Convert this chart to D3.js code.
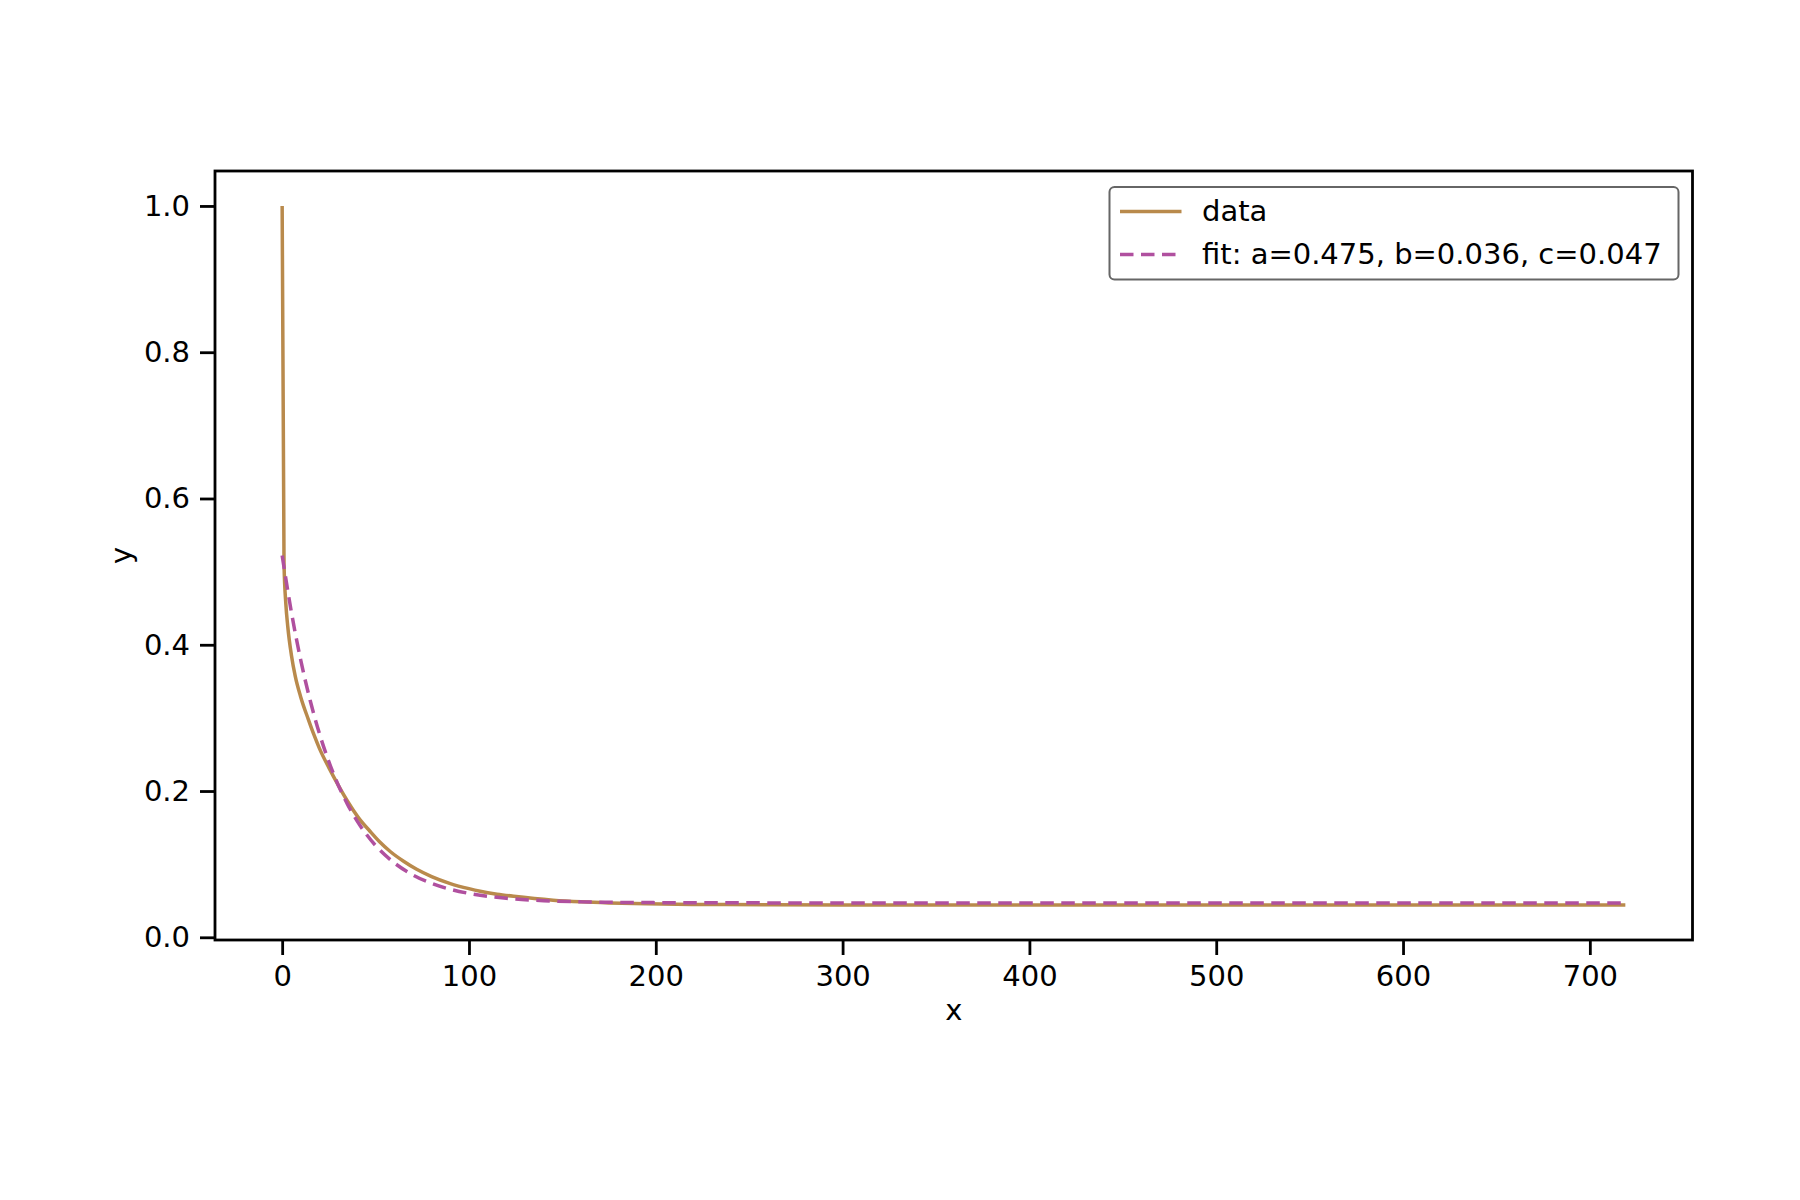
<!DOCTYPE html>
<html>
<head>
<meta charset="utf-8">
<script src="https://cdn.jsdelivr.net/npm/d3@7"></script>
<style>
  html, body { margin: 0; padding: 0; background: #ffffff; }
  svg { display: block; font-family: "DejaVu Sans", sans-serif; }
</style>
</head>
<body>
<svg id="chart" width="1800" height="1200"></svg>
<script>
// ---------------- data ----------------
const dataX = [0, 1, 2, 3, 5, 7, 10, 14, 17, 20, 25, 30, 35, 41, 47, 52, 58, 65, 72, 80, 90, 100, 106, 115, 124, 135, 145, 160, 175, 195, 220, 260, 300, 400, 500, 600, 719];
const dataY = [1.0, 0.51, 0.455, 0.425, 0.385, 0.357, 0.328, 0.298, 0.277, 0.258, 0.232, 0.208, 0.186, 0.163, 0.145, 0.131, 0.117, 0.104, 0.093, 0.083, 0.0735, 0.0665, 0.063, 0.059, 0.056, 0.053, 0.0508, 0.0485, 0.047, 0.0458, 0.045, 0.0445, 0.0442, 0.0441, 0.0441, 0.0441, 0.0441];

const fitX = [0, 5, 10, 15, 20, 25, 30, 35, 40, 45, 50, 60, 70, 80, 90, 100, 120, 140, 160, 180, 200, 250, 300, 400, 500, 600, 719];
const fitY = [0.522, 0.4438, 0.3784, 0.3238, 0.2782, 0.2401, 0.2083, 0.1818, 0.1595, 0.1410, 0.1255, 0.1018, 0.0852, 0.0737, 0.0656, 0.0600, 0.0533, 0.0501, 0.0485, 0.0477, 0.0474, 0.0471, 0.0470, 0.0470, 0.0470, 0.0470, 0.0470];

const seriesLabels = ["data", "fit: a=0.475, b=0.036, c=0.047"];
const xTicks = [0, 100, 200, 300, 400, 500, 600, 700];
const yTicks = [0.0, 0.2, 0.4, 0.6, 0.8, 1.0];
const xLabel = "x";
const yLabel = "y";

// ---------------- layout / style ----------------
const plot = { left: 215, right: 1692.5, top: 171, bottom: 940 };
const FS = 29;
const colData = "#b98a4c";
const colFit = "#b0509f";
const LW = 3.5;
const dash = "13.5,7.5";

const svg = d3.select("#chart");

// scales with matplotlib-like 5% margins
const xExt = d3.extent(dataX.concat(fitX));
const yExt = d3.extent(dataY.concat(fitY));
const xPad = (xExt[1] - xExt[0]) * 0.05;
const yPad = (yExt[1] - yExt[0]) * 0.05;
const x = d3.scaleLinear().domain([xExt[0] - xPad, xExt[1] + xPad]).range([plot.left, plot.right]);
const y = d3.scaleLinear().domain([yExt[0] - yPad, yExt[1] + yPad]).range([plot.bottom, plot.top]);

// lines
const line = d3.line().x(d => x(d[0])).y(d => y(d[1])).curve(d3.curveMonotoneX);
const dataPts = dataX.map((v, i) => [v, dataY[i]]);
const fitPts = fitX.map((v, i) => [v, fitY[i]]);

svg.append("path").datum(dataPts)
  .attr("d", line).attr("fill", "none")
  .attr("stroke", colData).attr("stroke-width", LW)
  .attr("stroke-linejoin", "round").attr("stroke-linecap", "butt");

svg.append("path").datum(fitPts)
  .attr("d", line).attr("fill", "none")
  .attr("stroke", colFit).attr("stroke-width", LW)
  .attr("stroke-dasharray", dash);

// axes
const xAxis = d3.axisBottom(x).tickValues(xTicks).tickSize(15).tickPadding(10.5).tickFormat(d3.format("d"));
const yAxis = d3.axisLeft(y).tickValues(yTicks).tickSize(15).tickPadding(10).tickFormat(d3.format(".1f"));

const gx = svg.append("g").attr("transform", `translate(0,${plot.bottom})`).call(xAxis);
const gy = svg.append("g").attr("transform", `translate(${plot.left},0)`).call(yAxis);
[gx, gy].forEach(g => {
  g.select(".domain").remove();
  g.selectAll(".tick line").attr("stroke", "#000").attr("stroke-width", 2.8);
  g.selectAll(".tick text").attr("fill", "#000").style("font-size", FS + "px")
    .style("font-family", "'DejaVu Sans', sans-serif");
});

// frame
svg.append("rect")
  .attr("x", plot.left).attr("y", plot.top)
  .attr("width", plot.right - plot.left).attr("height", plot.bottom - plot.top)
  .attr("fill", "none").attr("stroke", "#000").attr("stroke-width", 2.8);

// axis labels
svg.append("text").attr("x", (plot.left + plot.right) / 2).attr("y", 1020)
  .attr("text-anchor", "middle").style("font-size", FS + "px").attr("fill", "#000").text(xLabel);
svg.append("text")
  .attr("transform", `translate(131,${(plot.top + plot.bottom) / 2}) rotate(-90)`)
  .attr("text-anchor", "middle").style("font-size", FS + "px").attr("fill", "#000").text(yLabel);

// legend
const lg = { x0: 1109.5, y0: 187, x1: 1678.5, y1: 279.5 };
svg.append("rect")
  .attr("x", lg.x0).attr("y", lg.y0).attr("width", lg.x1 - lg.x0).attr("height", lg.y1 - lg.y0)
  .attr("rx", 5).attr("ry", 5)
  .attr("fill", "#ffffff").attr("fill-opacity", 0.85)
  .attr("stroke", "#666666").attr("stroke-width", 2);

const rowsY = [211.5, 254.5];
const handleX = [1120, 1181.5];
const textX = 1202;
const legendItems = [
  { label: seriesLabels[0], color: colData, dash: null },
  { label: seriesLabels[1], color: colFit, dash: dash }
];
legendItems.forEach((it, i) => {
  const l = svg.append("line")
    .attr("x1", handleX[0]).attr("x2", handleX[1])
    .attr("y1", rowsY[i]).attr("y2", rowsY[i])
    .attr("stroke", it.color).attr("stroke-width", LW);
  if (it.dash) l.attr("stroke-dasharray", it.dash);
  svg.append("text").attr("x", textX).attr("y", rowsY[i] + 0.33 * FS)
    .style("font-size", FS + "px").attr("fill", "#000").text(it.label);
});
</script>
</body>
</html>
